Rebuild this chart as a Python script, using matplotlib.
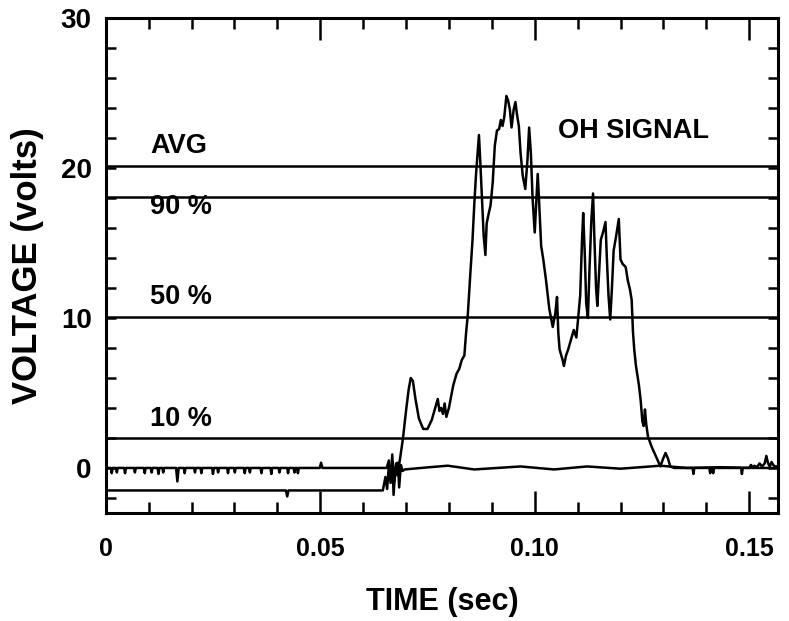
import matplotlib
matplotlib.use("Agg")
import matplotlib.pyplot as plt
from matplotlib.ticker import MultipleLocator, FixedLocator

plt.rcParams['font.family'] = ['Liberation Sans', 'DejaVu Sans']
plt.rcParams['font.weight'] = 'bold'

# Reference levels derived from the averaged peak voltage
avg_level = 20.1
level_fracs = [0.9, 0.5, 0.1]
level_labels = ["90 %", "50 %", "10 %"]

# OH signal trace (time in s, voltage in V)
sig_t = [0.0, 0.0420, 0.0423, 0.0426, 0.0646,
         0.0652, 0.0656, 0.0660, 0.0664, 0.0668, 0.0671, 0.0675, 0.0680, 0.0686,
         0.0693, 0.0700, 0.0706, 0.0711, 0.0716, 0.0722, 0.0730, 0.0740, 0.0750,
         0.0760, 0.0768, 0.0774, 0.0778, 0.0782, 0.0786, 0.0790, 0.0794, 0.0800,
         0.0810, 0.0818, 0.0824, 0.0830, 0.0836, 0.0840, 0.0844, 0.0850, 0.0855,
         0.0859, 0.0863, 0.0867, 0.0870, 0.0873, 0.0877, 0.0881, 0.0885, 0.0888,
         0.0893, 0.0897, 0.0902, 0.0907, 0.0912, 0.0917, 0.0921, 0.0925, 0.0929,
         0.0934, 0.0938, 0.0942, 0.0946, 0.0951, 0.0955, 0.0959, 0.0963, 0.0967,
         0.0972, 0.0978, 0.0983, 0.0987, 0.0991, 0.0995, 0.1000, 0.1004, 0.1007,
         0.1010, 0.1015, 0.1020, 0.1026, 0.1034, 0.1042, 0.1048, 0.1052, 0.1055,
         0.1058, 0.1065, 0.1068, 0.1073, 0.1078, 0.1085, 0.1091, 0.1097, 0.1101,
         0.1106, 0.1110, 0.1113, 0.1117, 0.1120, 0.1124, 0.1128, 0.1132, 0.1136,
         0.1139, 0.1143, 0.1146, 0.1150, 0.1154, 0.1160, 0.1165, 0.1168, 0.1172,
         0.1176, 0.1180, 0.1184, 0.1190, 0.1196, 0.1200, 0.1205, 0.1212, 0.1217,
         0.1222, 0.1226, 0.1229, 0.1232, 0.1236, 0.1243, 0.1247, 0.1251, 0.1254,
         0.1257, 0.1260, 0.1264, 0.1272, 0.1282, 0.1293, 0.1299, 0.1305, 0.1311,
         0.1316, 0.1325, 0.1368, 0.1370, 0.1372, 0.1407, 0.1409, 0.1411, 0.1414,
         0.1416, 0.1418, 0.1481, 0.1483, 0.1485, 0.1500, 0.1504, 0.1508, 0.1512,
         0.1518, 0.1524, 0.1530, 0.1536, 0.1540, 0.1544, 0.1548, 0.1552, 0.1556,
         0.1560, 0.1567]
sig_v = [-1.5, -1.5, -1.9, -1.5, -1.5,
         -0.6, -1.4, 0.2, -1.0, 0.9, -1.8, 0.0, -0.5, 0.6,
         2.0, 3.8, 5.2, 6.0, 5.8, 4.6, 3.3, 2.6, 2.6,
         3.2, 4.0, 4.6, 3.8, 4.0, 3.6, 4.3, 3.4, 4.0,
         5.5, 6.3, 6.6, 7.2, 7.5, 9.0, 10.2, 13.0, 15.2,
         17.5, 19.5, 21.0, 22.2, 20.5, 18.0, 15.5, 14.2, 16.3,
         17.0, 17.5, 19.0, 21.5, 22.5, 22.6, 23.2, 22.8, 23.4,
         24.8, 24.5, 23.9, 22.7, 23.9, 24.4, 23.5, 22.8, 21.0,
         19.5, 18.6, 20.5, 22.7, 21.0, 18.0, 15.7, 18.0, 19.6,
         17.9, 14.8, 13.9, 12.6, 10.6, 9.4, 10.3, 11.4, 9.0,
         7.9, 7.2, 6.8, 7.5, 7.9, 8.6, 9.2, 8.7, 9.9,
         11.5, 15.0, 17.0, 14.0, 11.0, 10.0, 13.5, 16.5, 18.3,
         15.4, 12.0, 10.8, 13.0, 15.2, 15.8, 16.4, 14.1, 11.5,
         9.9, 12.0, 14.5, 15.5, 16.6, 13.9, 13.6, 13.4, 12.5,
         11.9, 11.2, 9.1, 7.9, 6.8, 5.5, 4.5, 3.1, 2.8,
         3.9, 2.9, 2.1, 1.45, 0.8, 0.1, 0.6, 1.0, 0.6,
         0.1, 0.0, 0.0, -0.4, 0.0, 0.0, -0.35, 0.0, 0.0,
         -0.35, 0.0, 0.0, -0.4, 0.0, 0.0, 0.2, 0.05, 0.15,
         0.05, 0.3, 0.1, 0.3, 0.8, 0.3, 0.1, 0.4, 0.2,
         0.1, 0.1]

# Background trace recorded alongside the signal
bg_t = [0.0, 0.0012, 0.0014, 0.0016, 0.0024, 0.0026, 0.0028, 0.0043, 0.0045, 0.0047,
        0.0066, 0.0068, 0.0070, 0.0089, 0.0091, 0.0093, 0.0105, 0.0107, 0.0109,
        0.0121, 0.0123, 0.0125, 0.0132, 0.0134, 0.0136, 0.0164, 0.0167, 0.0170,
        0.0182, 0.0184, 0.0186, 0.0206, 0.0208, 0.0210, 0.0221, 0.0223, 0.0225,
        0.0248, 0.0250, 0.0252, 0.0260, 0.0262, 0.0264, 0.0283, 0.0285, 0.0287,
        0.0299, 0.0301, 0.0303, 0.0322, 0.0324, 0.0326, 0.0334, 0.0336, 0.0338,
        0.0361, 0.0363, 0.0365, 0.0384, 0.0386, 0.0388, 0.0403, 0.0405, 0.0407,
        0.0423, 0.0425, 0.0427, 0.0438, 0.0440, 0.0442, 0.0446, 0.0448, 0.0450,
        0.0499, 0.0502, 0.0505, 0.0655, 0.0660, 0.0665, 0.0669, 0.0673, 0.0677,
        0.0681, 0.0684, 0.0688, 0.0692, 0.0697,
        0.0735, 0.0797, 0.0859, 0.0913, 0.0967, 0.1045, 0.1122, 0.1200, 0.1293,
        0.1355, 0.1433, 0.1510, 0.1567]
bg_v = [0.0, 0.0, -0.35, 0.0, 0.0, -0.3, 0.0, 0.0, -0.35, 0.0,
        0.0, -0.3, 0.0, 0.0, -0.35, 0.0, 0.0, -0.3, 0.0,
        0.0, -0.4, 0.0, 0.0, -0.3, 0.0, 0.0, -0.9, 0.0,
        0.0, -0.35, 0.0, 0.0, -0.3, 0.0, 0.0, -0.35, 0.0,
        0.0, -0.4, 0.0, 0.0, -0.3, 0.0, 0.0, -0.35, 0.0,
        0.0, -0.3, 0.0, 0.0, -0.35, 0.0, 0.0, -0.3, 0.0,
        0.0, -0.35, 0.0, 0.0, -0.4, 0.0, 0.0, -0.3, 0.0,
        0.0, -0.35, 0.0, 0.0, -0.3, 0.0, 0.0, -0.35, 0.0,
        0.0, 0.35, 0.0, 0.0, 0.5, -0.6, 0.4, -0.9, 0.3,
        0.35, -1.3, 0.2, -0.2, -0.1,
        0.0, 0.15, -0.1, 0.0, 0.1, -0.1, 0.1, -0.05, 0.15,
        0.0, 0.05, 0.0, 0.0]

x_ticks = [0.0, 0.05, 0.10, 0.15]
x_tick_labels = ["0", "0.05", "0.10", "0.15"]
y_ticks = [0, 10, 20, 30]
y_tick_labels = ["0", "10", "20", "30"]

fig = plt.figure(figsize=(7.89, 6.21), dpi=100)
ax = fig.add_axes([0.134, 0.174, 0.852, 0.797])

lw = 1.8
for frac in [1.0] + level_fracs:
    ax.axhline(avg_level * frac, color="black", lw=lw)
ax.plot(bg_t, bg_v, color="black", lw=lw, solid_joinstyle="round")
ax.plot(sig_t, sig_v, color="black", lw=lw, solid_joinstyle="round")

ax.set_xlim(0, 0.1567)
ax.set_ylim(-3, 30)

ax.xaxis.set_major_locator(FixedLocator(x_ticks))
ax.set_xticklabels(x_tick_labels)
ax.xaxis.set_minor_locator(MultipleLocator(0.01))
ax.yaxis.set_major_locator(FixedLocator(y_ticks))
ax.set_yticklabels(y_tick_labels)
ax.yaxis.set_minor_locator(MultipleLocator(2))

ax.tick_params(axis="x", which="major", direction="in", length=16, width=1.8,
               top=True, bottom=True, labelsize=18, pad=17)
ax.tick_params(axis="x", which="minor", direction="in", length=8, width=1.8,
               top=True, bottom=True)
ax.tick_params(axis="y", which="both", direction="in", length=7, width=1.8,
               left=True, right=True, labelsize=20, pad=10)
for s in ax.spines.values():
    s.set_linewidth(2.2)

text_kw = dict(fontsize=19.5, fontweight="bold", color="black", va="baseline", ha="left")
ax.text(0.0104, avg_level + 0.9, "AVG", **text_kw)
label_y = [16.95, 10.9, 2.82]
for lab, yy in zip(level_labels, label_y):
    ax.text(0.0104, yy, lab, **text_kw)
ax.text(0.1055, 22.0, "OH SIGNAL", **text_kw)

ax.set_xlabel("TIME (sec)", fontsize=22, fontweight="bold", labelpad=19)
ax.set_ylabel("VOLTAGE (volts)", fontsize=25, fontweight="bold", labelpad=12)

fig.savefig("out.png", dpi=100)
